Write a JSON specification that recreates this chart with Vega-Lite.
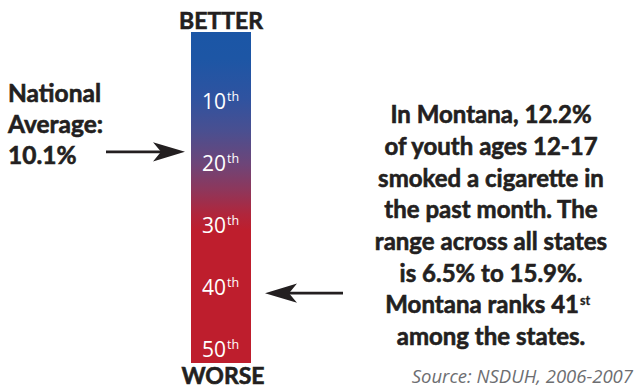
{
  "$schema": "https://vega.github.io/schema/vega-lite/v6.json",
  "width": 636,
  "height": 388,
  "autosize": {"type": "none"},
  "padding": 0,
  "background": "white",
  "config": {"view": {"stroke": null}, "text": {"font": "Open Sans"}},
  "layer": [
    {
      "data": {"values": [{"scale": "State rank", "top": -1.13, "bottom": 52.26}]},
      "mark": {
        "type": "rect",
        "fill": {
          "gradient": "linear", "x1": 0, "y1": 0, "x2": 0, "y2": 1,
          "stops": [
            {"offset": 0, "color": "#1b56a6"},
            {"offset": 0.08, "color": "#1d56a5"},
            {"offset": 0.2, "color": "#2f53a0"},
            {"offset": 0.3, "color": "#4a4f90"},
            {"offset": 0.4, "color": "#6e4578"},
            {"offset": 0.48, "color": "#8f365a"},
            {"offset": 0.55, "color": "#b0263c"},
            {"offset": 0.6, "color": "#be1e2d"},
            {"offset": 1, "color": "#be1e2d"}
          ]
        }
      },
      "encoding": {
        "x": {"datum": 191, "type": "quantitative", "scale": {"domain": [0, 636], "nice": false, "zero": false}, "axis": null},
        "x2": {"datum": 251},
        "y": {"field": "top", "type": "quantitative", "scale": {"domain": [-6.29, 56.29], "reverse": true, "nice": false, "zero": false}, "axis": null},
        "y2": {"field": "bottom"}
      }
    },
    {
      "data": {"values": [
        {"rank": 10, "num": "10", "suffix": "th"},
        {"rank": 20, "num": "20", "suffix": "th"},
        {"rank": 30, "num": "30", "suffix": "th"},
        {"rank": 40, "num": "40", "suffix": "th"},
        {"rank": 50, "num": "50", "suffix": "th"}
      ]},
      "layer": [
        {
          "mark": {"type": "text", "align": "right", "baseline": "alphabetic", "dy": 8, "fontSize": 21, "fill": "white"},
          "encoding": {
            "x": {"datum": 226, "type": "quantitative", "scale": {"domain": [0, 636], "nice": false, "zero": false}, "axis": null},
            "y": {"field": "rank", "type": "quantitative", "scale": {"domain": [-6.29, 56.29], "reverse": true, "nice": false, "zero": false}, "axis": null},
            "text": {"field": "num"}
          }
        },
        {
          "mark": {"type": "text", "align": "left", "baseline": "alphabetic", "dy": 0, "fontSize": 12.5, "fill": "white"},
          "encoding": {
            "x": {"datum": 227, "type": "quantitative", "scale": {"domain": [0, 636], "nice": false, "zero": false}, "axis": null},
            "y": {"field": "rank", "type": "quantitative", "scale": {"domain": [-6.29, 56.29], "reverse": true, "nice": false, "zero": false}, "axis": null},
            "text": {"field": "suffix"}
          }
        }
      ]
    },
    {
      "data": {"values": [{"label": "BETTER"}]},
      "mark": {"type": "text", "align": "center", "baseline": "alphabetic", "font": "Lato", "fontSize": 23, "fontWeight": "bold", "fill": "#231f20", "stroke": "#231f20", "strokeWidth": 0.6},
      "encoding": {
        "x": {"datum": 221, "type": "quantitative", "scale": {"domain": [0, 636], "nice": false, "zero": false}, "axis": null},
        "y": {"datum": -1.61, "type": "quantitative", "scale": {"domain": [-6.29, 56.29], "reverse": true, "nice": false, "zero": false}, "axis": null},
        "text": {"field": "label"}
      }
    },
    {
      "data": {"values": [{"label": "WORSE"}]},
      "mark": {"type": "text", "align": "center", "baseline": "alphabetic", "font": "Lato", "fontSize": 23, "fontWeight": "bold", "fill": "#231f20", "stroke": "#231f20", "strokeWidth": 0.6},
      "encoding": {
        "x": {"datum": 223, "type": "quantitative", "scale": {"domain": [0, 636], "nice": false, "zero": false}, "axis": null},
        "y": {"datum": 55.6, "type": "quantitative", "scale": {"domain": [-6.29, 56.29], "reverse": true, "nice": false, "zero": false}, "axis": null},
        "text": {"field": "label"}
      }
    },
    {
      "data": {"values": [{"label": ["National", "Average:", "10.1%"]}]},
      "mark": {"type": "text", "align": "left", "baseline": "alphabetic", "font": "Lato", "fontSize": 24.5, "fontWeight": "bold", "lineHeight": 31, "fill": "#231f20", "stroke": "#231f20", "strokeWidth": 0.6},
      "encoding": {
        "x": {"datum": 8, "type": "quantitative", "scale": {"domain": [0, 636], "nice": false, "zero": false}, "axis": null},
        "y": {"datum": 10.16, "type": "quantitative", "scale": {"domain": [-6.29, 56.29], "reverse": true, "nice": false, "zero": false}, "axis": null},
        "text": {"field": "label"}
      }
    },
    {
      "data": {"values": [{"marker": "National average", "rank": 18.2}]},
      "layer": [
        {
          "mark": {"type": "rule", "stroke": "#231f20", "strokeWidth": 2.8},
          "encoding": {
            "x": {"datum": 106, "type": "quantitative", "scale": {"domain": [0, 636], "nice": false, "zero": false}, "axis": null},
            "x2": {"datum": 172},
            "y": {"field": "rank", "type": "quantitative", "scale": {"domain": [-6.29, 56.29], "reverse": true, "nice": false, "zero": false}, "axis": null}
          }
        },
        {
          "mark": {"type": "point", "shape": "M1,0L-1,-0.6L-0.5,0L-1,0.6Z", "filled": true, "fill": "#231f20", "strokeWidth": 0, "size": 1024, "opacity": 1},
          "encoding": {
            "x": {"datum": 169, "type": "quantitative", "scale": {"domain": [0, 636], "nice": false, "zero": false}, "axis": null},
            "y": {"field": "rank", "type": "quantitative", "scale": {"domain": [-6.29, 56.29], "reverse": true, "nice": false, "zero": false}, "axis": null}
          }
        }
      ]
    },
    {
      "data": {"values": [{"state": "Montana", "rank": 41}]},
      "layer": [
        {
          "mark": {"type": "rule", "stroke": "#231f20", "strokeWidth": 2.8},
          "encoding": {
            "x": {"datum": 278, "type": "quantitative", "scale": {"domain": [0, 636], "nice": false, "zero": false}, "axis": null},
            "x2": {"datum": 343},
            "y": {"field": "rank", "type": "quantitative", "scale": {"domain": [-6.29, 56.29], "reverse": true, "nice": false, "zero": false}, "axis": null}
          }
        },
        {
          "mark": {"type": "point", "shape": "M-1,0L1,-0.6L0.5,0L1,0.6Z", "filled": true, "fill": "#231f20", "strokeWidth": 0, "size": 1024, "opacity": 1},
          "encoding": {
            "x": {"datum": 281, "type": "quantitative", "scale": {"domain": [0, 636], "nice": false, "zero": false}, "axis": null},
            "y": {"field": "rank", "type": "quantitative", "scale": {"domain": [-6.29, 56.29], "reverse": true, "nice": false, "zero": false}, "axis": null}
          }
        }
      ]
    },
    {
      "data": {"values": [{"label": ["In Montana, 12.2%", "of youth ages 12-17", "smoked a cigarette in", "the past month. The", "range across all states", "is 6.5% to 15.9%."]}]},
      "mark": {"type": "text", "align": "center", "baseline": "alphabetic", "font": "Lato", "fontSize": 24, "fontWeight": "bold", "lineHeight": 31.7, "fill": "#231f20", "stroke": "#231f20", "strokeWidth": 0.6},
      "encoding": {
        "x": {"datum": 491, "type": "quantitative", "scale": {"domain": [0, 636], "nice": false, "zero": false}, "axis": null},
        "y": {"datum": 13.6, "type": "quantitative", "scale": {"domain": [-6.29, 56.29], "reverse": true, "nice": false, "zero": false}, "axis": null},
        "text": {"field": "label"}
      }
    },
    {
      "data": {"values": [{"main": "Montana ranks 41", "suffix": "st", "last": "among the states."}]},
      "layer": [
        {
          "mark": {"type": "text", "align": "right", "baseline": "alphabetic", "font": "Lato", "fontSize": 24, "fontWeight": "bold", "fill": "#231f20", "stroke": "#231f20", "strokeWidth": 0.6},
          "encoding": {
            "x": {"datum": 579, "type": "quantitative", "scale": {"domain": [0, 636], "nice": false, "zero": false}, "axis": null},
            "y": {"datum": 44.24, "type": "quantitative", "scale": {"domain": [-6.29, 56.29], "reverse": true, "nice": false, "zero": false}, "axis": null},
            "text": {"field": "main"}
          }
        },
        {
          "mark": {"type": "text", "align": "left", "baseline": "alphabetic", "dy": -8, "font": "Lato", "fontSize": 12.5, "fontWeight": "bold", "fill": "#231f20", "stroke": "#231f20", "strokeWidth": 0.3},
          "encoding": {
            "x": {"datum": 580, "type": "quantitative", "scale": {"domain": [0, 636], "nice": false, "zero": false}, "axis": null},
            "y": {"datum": 44.24, "type": "quantitative", "scale": {"domain": [-6.29, 56.29], "reverse": true, "nice": false, "zero": false}, "axis": null},
            "text": {"field": "suffix"}
          }
        },
        {
          "mark": {"type": "text", "align": "center", "baseline": "alphabetic", "font": "Lato", "fontSize": 24, "fontWeight": "bold", "fill": "#231f20", "stroke": "#231f20", "strokeWidth": 0.6},
          "encoding": {
            "x": {"datum": 491, "type": "quantitative", "scale": {"domain": [0, 636], "nice": false, "zero": false}, "axis": null},
            "y": {"datum": 49.35, "type": "quantitative", "scale": {"domain": [-6.29, 56.29], "reverse": true, "nice": false, "zero": false}, "axis": null},
            "text": {"field": "last"}
          }
        }
      ]
    },
    {
      "data": {"values": [{"source": "Source: NSDUH, 2006-2007"}]},
      "mark": {"type": "text", "align": "right", "baseline": "alphabetic", "fontSize": 18.5, "fontStyle": "italic", "fill": "#6d6e71"},
      "encoding": {
        "x": {"datum": 633, "type": "quantitative", "scale": {"domain": [0, 636], "nice": false, "zero": false}, "axis": null},
        "y": {"datum": 55.48, "type": "quantitative", "scale": {"domain": [-6.29, 56.29], "reverse": true, "nice": false, "zero": false}, "axis": null},
        "text": {"field": "source"}
      }
    }
  ]
}
